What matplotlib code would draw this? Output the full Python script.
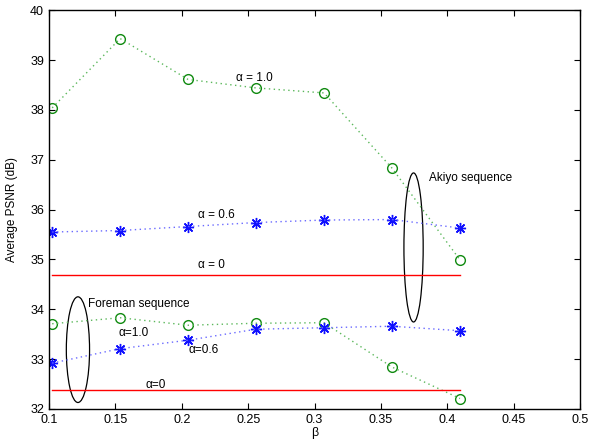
import matplotlib
matplotlib.use('Agg')
import matplotlib.pyplot as plt
from matplotlib.patches import Ellipse

plt.rcParams['font.family'] = ['Liberation Sans', 'DejaVu Sans']

# beta values (multiples of 0.0512)
beta = [0.1024, 0.1536, 0.2048, 0.2560, 0.3072, 0.3584, 0.4096]

# Akiyo sequence
akiyo_a10 = [38.04, 39.43, 38.61, 38.44, 38.34, 36.83, 34.99]
akiyo_a06 = [35.55, 35.58, 35.66, 35.74, 35.79, 35.80, 35.63]
akiyo_a0 = 34.69

# Foreman sequence
foreman_a10 = [33.71, 33.83, 33.68, 33.72, 33.73, 32.84, 32.21]
foreman_a06 = [32.92, 33.21, 33.38, 33.60, 33.63, 33.66, 33.57]
foreman_a0 = 32.39

fig = plt.figure(figsize=(6.02, 4.42), dpi=100)
ax = fig.add_axes([0.0814, 0.0747, 0.8821, 0.9023])

green = '#108a10'
blue = '#1010ff'
ast = (8, 2, 0)
dots = (0, (1, 2.5))

for series in (akiyo_a10, foreman_a10):
    ax.plot(beta, series, color=green, ls='none', marker='o', ms=7,
            mfc='none', mec=green, mew=1.0)
    ax.plot(beta, series, color='#5cb85c', ls=dots, lw=1.0)
for series in (akiyo_a06, foreman_a06):
    ax.plot(beta, series, color=blue, ls='none', marker=ast, ms=8,
            mec=blue, mew=1.0)
    ax.plot(beta, series, color='#6a6aff', ls=dots, lw=1.0)
for level in (akiyo_a0, foreman_a0):
    ax.plot([beta[0], beta[-1]], [level, level], '-', color='red', lw=1.0)

# ellipses around groups
ax.add_patch(Ellipse((0.1218, 33.19), 0.0175, 2.12, fill=False, ec='black', lw=0.9))
ax.add_patch(Ellipse((0.3746, 35.24), 0.0145, 2.99, fill=False, ec='black', lw=0.9))

fs = 8.5
ax.text(0.2545, 38.64, 'α = 1.0', ha='center', va='center', fontsize=fs)
ax.text(0.2260, 35.90, 'α = 0.6', ha='center', va='center', fontsize=fs)
ax.text(0.2224, 34.89, 'α = 0', ha='center', va='center', fontsize=fs)
ax.text(0.386, 36.63, 'Akiyo sequence', ha='left', va='center', fontsize=fs)
ax.text(0.1294, 34.10, 'Foreman sequence', ha='left', va='center', fontsize=fs)
ax.text(0.164, 33.53, 'α=1.0', ha='center', va='center', fontsize=fs)
ax.text(0.2168, 33.19, 'α=0.6', ha='center', va='center', fontsize=fs)
ax.text(0.1806, 32.48, 'α=0', ha='center', va='center', fontsize=fs)

ax.set_xlim(0.1, 0.5)
ax.set_ylim(32, 40)
ax.set_xticks([0.1, 0.15, 0.2, 0.25, 0.3, 0.35, 0.4, 0.45, 0.5])
ax.set_xticklabels(['0.1', '0.15', '0.2', '0.25', '0.3', '0.35', '0.4', '0.45', '0.5'])
ax.set_yticks(range(32, 41))
ax.tick_params(direction='in', top=True, right=True, labelsize=9, length=4, width=0.8)
for s in ax.spines.values():
    s.set_linewidth(1.0)

ax.set_xlabel('β', fontsize=9, labelpad=1)
ax.set_ylabel('Average PSNR (dB)', fontsize=8.5, labelpad=9)

fig.savefig('out.png', dpi=100)
